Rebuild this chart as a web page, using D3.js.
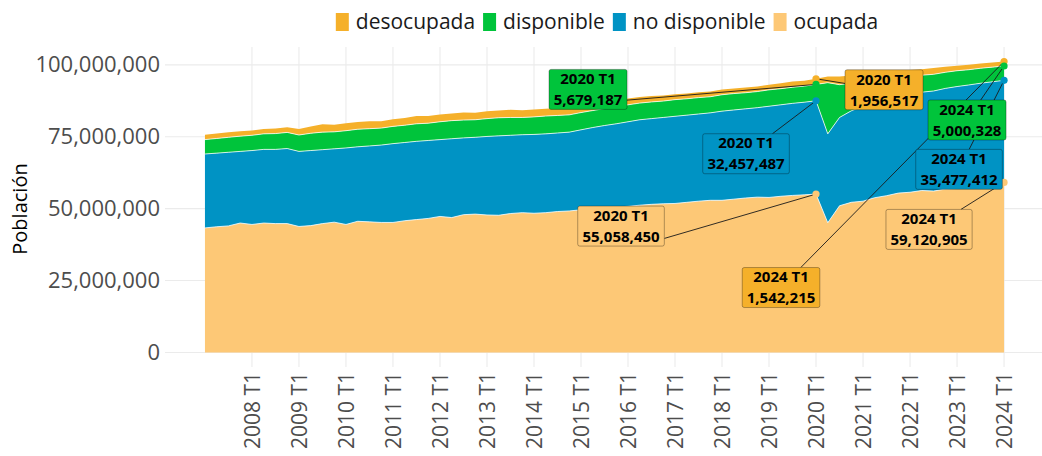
<!DOCTYPE html>
<html lang="es">
<head>
<meta charset="utf-8">
<script src="https://cdn.jsdelivr.net/npm/d3@7"></script>
<style>
    body { margin: 0; background: #ffffff; }
    svg { display: block; font-family: "Open Sans", sans-serif; }
</style>
</head>
<body>
<svg id="chart" width="1042" height="456"></svg>
<script>
// Trimestres 2007 T1 .. 2024 T1
const periods = [];
for (let year = 2007; year <= 2024; year++) {
    for (let q = 1; q <= 4; q++) {
        if (year === 2024 && q > 1) break;
        periods.push(`${year} T${q}`);
    }
}

// Millones de personas
const ocupada = [
    43.3, 43.7, 44.0, 45.0,
    44.5, 45.0, 44.8, 44.8,
    43.8, 44.1, 44.8, 45.3,
    44.5, 45.6, 45.4, 45.2,
    45.2, 45.8, 46.2, 46.6,
    47.3, 46.9, 47.9, 48.1,
    47.8, 47.7, 48.3, 48.6,
    48.4, 48.6, 49.0, 49.2,
    49.6, 49.9, 50.3, 50.6,
    50.8, 51.2, 51.5, 51.7,
    51.8, 52.2, 52.6, 52.9,
    52.9, 53.3, 53.7, 54.0,
    53.9, 54.3, 54.6, 54.8,
    55.05845, 45.1, 51.0, 52.2,
    52.6, 53.8, 54.5, 55.4,
    55.7, 56.3, 56.1, 56.8,
    57.0, 57.6, 58.1, 58.5,
    59.120905
];

const noDisponible = [
    25.7, 25.6, 25.6, 24.9,
    25.7, 25.6, 25.8, 26.1,
    26.1, 26.1, 25.7, 25.5,
    26.6, 25.9, 26.4, 26.9,
    27.4, 27.2, 27.2, 27.1,
    26.7, 27.4, 26.7, 26.7,
    27.3, 27.6, 27.2, 27.1,
    27.4, 27.4, 27.3, 27.4,
    27.8, 28.3, 28.6, 28.9,
    29.4, 29.7, 29.8, 30.0,
    30.3, 30.3, 30.3, 30.4,
    31.0, 31.0, 31.0, 31.1,
    31.7, 31.8, 32.0, 32.2,
    32.457487, 30.9, 30.7, 31.8,
    33.0, 33.0, 33.2, 33.2,
    33.9, 34.2, 34.8, 35.0,
    35.45, 35.4, 35.5, 35.6,
    35.477412
];

const disponible = [
    5.0, 5.1, 5.2, 5.3,
    5.3, 5.4, 5.5, 5.6,
    5.7, 6.0, 6.1, 5.9,
    6.0, 6.1, 6.0, 5.9,
    6.0, 6.0, 6.1, 6.0,
    6.2, 6.3, 6.2, 6.1,
    6.2, 6.3, 6.2, 6.0,
    6.1, 6.2, 6.1, 6.0,
    6.0, 5.9, 5.9, 5.8,
    5.9, 5.8, 5.8, 5.7,
    5.8, 5.7, 5.7, 5.6,
    5.7, 5.7, 5.6, 5.6,
    5.7, 5.6, 5.6, 5.6,
    5.679187, 17.8, 11.4, 9.7,
    8.4, 7.6, 7.2, 6.9,
    6.3, 5.9, 5.8, 5.6,
    5.5, 5.3, 5.2, 5.1,
    5.000328
];

const desocupada = [
    1.7, 1.7, 1.8, 1.7,
    1.7, 1.7, 1.8, 1.8,
    2.1, 2.4, 2.7, 2.5,
    2.6, 2.5, 2.6, 2.4,
    2.5, 2.5, 2.7, 2.5,
    2.5, 2.5, 2.6, 2.4,
    2.6, 2.5, 2.7, 2.5,
    2.6, 2.5, 2.6, 2.4,
    2.3, 2.3, 2.4, 2.2,
    2.2, 2.1, 2.1, 1.9,
    1.9, 1.8, 1.9, 1.8,
    1.8, 1.8, 1.8, 1.8,
    1.8, 1.9, 2.0, 1.9,
    1.956517, 2.1, 2.8, 2.6,
    2.5, 2.4, 2.5, 2.3,
    2.3, 2.1, 2.2, 1.9,
    1.7, 1.7, 1.7, 1.6,
    1.542215
];

const yTicks = [0, 25e6, 50e6, 75e6, 100e6];
const xTicks = periods.filter(p => p.endsWith("T1") && p !== "2007 T1");

// Orden de apilado (abajo -> arriba) y orden de la leyenda
const keys = ["ocupada", "no disponible", "disponible", "desocupada"];
const legendKeys = ["desocupada", "disponible", "no disponible", "ocupada"];

const colors = {
    "desocupada": "#f5b02a",
    "disponible": "#00c43b",
    "no disponible": "#0093c4",
    "ocupada": "#fdc876"
};

// Etiquetas: desplazamiento de la caja respecto al punto (px)
const annotations = [
    { key: "desocupada", period: "2020 T1", dx: 68, dy: 11 },
    { key: "disponible", period: "2020 T1", dx: -228, dy: 5, aim: 14 },
    { key: "no disponible", period: "2020 T1", dx: -70, dy: 53 },
    { key: "ocupada", period: "2020 T1", dx: -195, dy: 32, aim: 25 },
    { key: "desocupada", period: "2024 T1", dx: -223, dy: 226 },
    { key: "disponible", period: "2024 T1", dx: -37, dy: 54 },
    { key: "no disponible", period: "2024 T1", dx: -45, dy: 89 },
    { key: "ocupada", period: "2024 T1", dx: -75, dy: 47 }
];

const rows = periods.map((period, i) => ({
    period,
    "ocupada": ocupada[i] * 1e6,
    "no disponible": noDisponible[i] * 1e6,
    "disponible": disponible[i] * 1e6,
    "desocupada": desocupada[i] * 1e6
}));

const series = d3.stack().keys(keys)(rows);
const maxTotal = d3.max(series[series.length - 1], d => d[1]);

const svg = d3.select("#chart");

const panel = { left: 165, right: 1044, top: 47, bottom: 367 };

const x = d3.scalePoint()
    .domain(periods)
    .range([panel.left, panel.right])
    .padding(3.4);

const y = d3.scaleLinear()
    .domain([-0.05 * maxTotal, 1.05 * maxTotal])
    .range([panel.bottom, panel.top]);

// Rejilla
const grid = svg.append("g").attr("class", "grid");

grid.selectAll(".gy")
    .data(yTicks)
    .join("line")
    .attr("x1", panel.left)
    .attr("x2", panel.right)
    .attr("y1", d => y(d))
    .attr("y2", d => y(d))
    .attr("stroke", "#ebebeb")
    .attr("stroke-width", 1.1);

grid.selectAll(".gx")
    .data(xTicks)
    .join("line")
    .attr("x1", d => x(d))
    .attr("x2", d => x(d))
    .attr("y1", panel.top)
    .attr("y2", panel.bottom)
    .attr("stroke", "#ebebeb")
    .attr("stroke-width", 1.1);

// Áreas apiladas
const area = d3.area()
    .x(d => x(d.data.period))
    .y0(d => y(d[0]))
    .y1(d => y(d[1]));

svg.append("g")
    .selectAll("path")
    .data(series)
    .join("path")
    .attr("fill", d => colors[d.key])
    .attr("d", area);

// Líneas blancas entre capas
const topLine = d3.line()
    .x(d => x(d.data.period))
    .y(d => y(d[1]));

svg.append("g")
    .selectAll("path")
    .data(series.slice(0, 3))
    .join("path")
    .attr("fill", "none")
    .attr("stroke", "#ffffff")
    .attr("stroke-opacity", 0.85)
    .attr("stroke-width", 0.9)
    .attr("d", topLine);

// Ejes
const yAxis = svg.append("g")
    .attr("transform", `translate(${panel.left},0)`)
    .call(d3.axisLeft(y).tickValues(yTicks).tickFormat(d3.format(",")).tickSize(0).tickPadding(5));

yAxis.select(".domain").remove();
yAxis.selectAll("text")
    .attr("fill", "#4d4d4d")
    .style("font-size", "22px")
    .style("font-family", "'Open Sans', sans-serif");

const xAxis = svg.append("g")
    .attr("transform", `translate(0,${panel.bottom})`)
    .call(d3.axisBottom(x).tickValues(xTicks).tickSize(0));

xAxis.select(".domain").remove();
xAxis.selectAll("text")
    .attr("transform", "rotate(-90)")
    .attr("text-anchor", "end")
    .attr("x", -5)
    .attr("y", 0)
    .attr("dy", "0.35em")
    .attr("fill", "#4d4d4d")
    .style("font-size", "21px")
    .style("font-family", "'Open Sans', sans-serif");

svg.append("text")
    .attr("transform", "translate(20,209) rotate(-90)")
    .attr("text-anchor", "middle")
    .attr("dy", "0.35em")
    .attr("fill", "#000")
    .style("font-size", "20px")
    .text("Población");

// Leyenda
const legend = svg.append("g");
const items = legend.selectAll("g")
    .data(legendKeys)
    .join("g");

items.append("rect")
    .attr("y", 13)
    .attr("width", 13)
    .attr("height", 18)
    .attr("fill", d => colors[d]);

items.append("text")
    .attr("x", 20)
    .attr("y", 22)
    .attr("dy", "0.35em")
    .attr("fill", "#1a1a1a")
    .style("font-size", "21px")
    .text(d => d);

const widths = [];
items.each(function () {
    widths.push(20 + d3.select(this).select("text").node().getComputedTextLength());
});
const gap = 8;
const legendWidth = d3.sum(widths) + gap * (widths.length - 1);
let cursor = 607 - legendWidth / 2;
items.attr("transform", (d, i) => {
    const t = `translate(${cursor},0)`;
    cursor += widths[i] + gap;
    return t;
});

// Anotaciones
const byKey = new Map(series.map(s => [s.key, s]));

const notes = annotations.map(a => {
    const i = periods.indexOf(a.period);
    const s = byKey.get(a.key);
    const px = x(a.period);
    const py = y(s[i][1]);
    const value = Math.round(rows[i][a.key]);
    return { ...a, px, py, value, cx: px + a.dx, cy: py + a.dy };
});

const labels = svg.append("g");
const noteGroups = labels.selectAll("g")
    .data(notes)
    .join("g");

// texto primero para medir
noteGroups.each(function (d) {
    const g = d3.select(this);
    const t = g.append("text")
        .attr("text-anchor", "middle")
        .attr("font-weight", "bold")
        .attr("fill", "#000")
        .style("font-size", "15px");
    t.append("tspan")
        .attr("x", d.cx)
        .attr("y", d.cy - 10.5)
        .attr("dy", "0.35em")
        .text(d.period);
    t.append("tspan")
        .attr("x", d.cx)
        .attr("y", d.cy + 10.5)
        .attr("dy", "0.35em")
        .text(d3.format(",")(d.value));
    const w = t.node().getBBox().width + 9;
    d.box = { x0: d.cx - w / 2, x1: d.cx + w / 2, y0: d.cy - 20, y1: d.cy + 20 };
});

function clipToBox(px, py, ax, ay, b) {
    const dx = ax - px, dy = ay - py;
    let t0 = 0;
    if (dx !== 0) t0 = Math.max(t0, Math.min((b.x0 - px) / dx, (b.x1 - px) / dx));
    if (dy !== 0) t0 = Math.max(t0, Math.min((b.y0 - py) / dy, (b.y1 - py) / dy));
    return [px + t0 * dx, py + t0 * dy];
}

const segments = svg.insert("g", () => labels.node());
segments.selectAll("line")
    .data(notes)
    .join("line")
    .attr("x1", d => d.px)
    .attr("y1", d => d.py)
    .attr("x2", d => clipToBox(d.px, d.py, d.cx, d.cy + (d.aim || 0), d.box)[0])
    .attr("y2", d => clipToBox(d.px, d.py, d.cx, d.cy + (d.aim || 0), d.box)[1])
    .attr("stroke", "#1a1a1a")
    .attr("stroke-width", 0.9);

svg.insert("g", () => labels.node())
    .selectAll("circle")
    .data(notes)
    .join("circle")
    .attr("cx", d => d.px)
    .attr("cy", d => d.py)
    .attr("r", 3.6)
    .attr("fill", d => colors[d.key]);

noteGroups.insert("rect", "text")
    .attr("x", d => d.box.x0)
    .attr("y", d => d.box.y0)
    .attr("width", d => d.box.x1 - d.box.x0)
    .attr("height", d => d.box.y1 - d.box.y0)
    .attr("rx", 2)
    .attr("fill", d => colors[d.key])
    .attr("stroke", "rgba(0,0,0,0.35)")
    .attr("stroke-width", 0.9);
</script>
</body>
</html>
